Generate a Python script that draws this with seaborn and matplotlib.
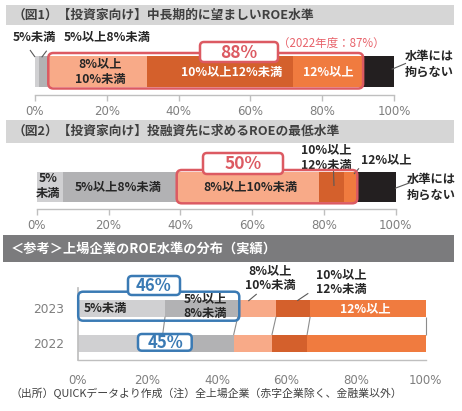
import numpy as np
import pandas as pd
import matplotlib.pyplot as plt
import seaborn as sns
from matplotlib.patches import FancyBboxPatch, Rectangle

# ---- data ----
seg_names = ['5%未満', '5%以上8%未満', '8%以上10%未満', '10%以上12%未満', '12%以上', '水準には拘らない']
fig1_vals = [1.1, 2.6, 27.4, 40.9, 19.4, 8.6]    # 中長期的に望ましいROE水準
fig2_vals = [7.2, 31.8, 39.6, 7.1, 3.6, 10.7]    # 投融資先に求めるROEの最低水準
ref_years = ['2023', '2022']
ref_2023 = [25.1, 20.9, 11.0, 9.8, 33.2]
ref_2022 = [24.4, 20.4, 11.0, 10.1, 34.1]
x_ticks = [0, 20, 40, 60, 80, 100]
x_ticklabels = [f'{t}%' for t in x_ticks]

seg_colors = ['#d0d0d2', '#b2b2b4', '#f8aa88', '#d4602c', '#f07b3f', '#231f20']
RED = '#dc5a62'
BLUE = '#3a7ab4'
GRAY_TXT = '#7f7f7f'
DARK_TXT = '#262626'

sns.set_theme(style='white')
plt.rcParams['font.family'] = ['Noto Sans CJK JP', 'DejaVu Sans']

W, H = 462, 411
fig = plt.figure(figsize=(W / 100, H / 100), dpi=100)
fig.patch.set_facecolor('white')


def px_axes(left, top, right, bottom):
    return fig.add_axes([left / W, 1 - bottom / H, (right - left) / W, (bottom - top) / H])


def stacked(ax, cats, rows, width):
    rows = np.asarray(rows, dtype=float)
    cum = np.cumsum(rows, axis=1)
    for j in reversed(range(cum.shape[1])):
        df = pd.DataFrame({'cat': cats, 'val': cum[:, j]})
        sns.barplot(data=df, x='val', y='cat', order=cats, orient='h', color=seg_colors[j],
                    saturation=1, width=width, linewidth=0, ax=ax)
    return cum


def fit_y(ax, top, bottom, first_center, unit):
    ax.set_ylim((bottom - first_center) / unit, (top - first_center) / unit)


def style_x(ax, pad, ticklen):
    ax.set_xlim(0, 100)
    ax.set_xticks(x_ticks)
    ax.set_xticklabels(x_ticklabels, fontfamily='DejaVu Sans')
    ax.set_xlabel('')
    ax.set_ylabel('')
    for s in ['top', 'right', 'left']:
        ax.spines[s].set_visible(False)
    ax.spines['bottom'].set_color('#bfbfbf')
    ax.spines['bottom'].set_linewidth(1)
    ax.tick_params(axis='x', colors='#bfbfbf', labelcolor=GRAY_TXT, labelsize=8.5,
                   length=ticklen, width=1, pad=pad, bottom=True, direction='out')
    ax.set_facecolor('none')


# ---- chart 1 ----
ax1 = px_axes(35, 50, 394, 95)
cum1 = stacked(ax1, ['fig1'], [fig1_vals], 0.8)
fit_y(ax1, 50, 95, 71.5, 31 / 0.8)
style_x(ax1, 3, 4)
ax1.set_yticks([])

# ---- chart 2 ----
ax2 = px_axes(36.7, 165, 395.7, 209.5)
cum2 = stacked(ax2, ['fig2'], [fig2_vals], 0.8)
fit_y(ax2, 165, 209.5, 187, 29.5 / 0.8)
style_x(ax2, 3, 4)
ax2.set_yticks([])

# ---- chart 3 ----
ax3 = px_axes(77.7, 288, 425.7, 360)
cum3 = stacked(ax3, ref_years, [ref_2023, ref_2022], 16.7 / 35)
fit_y(ax3, 288, 360, 308.3, 35)
style_x(ax3, 10, 0)
ax3.spines['left'].set_visible(True)
ax3.spines['left'].set_color('#bfbfbf')
ax3.tick_params(axis='y', labelcolor=GRAY_TXT, labelsize=8.8, length=0, pad=10)
for t in ax3.get_yticklabels():
    t.set_fontfamily('DejaVu Sans')

# ---- overlay for headers / labels ----
ov = fig.add_axes([0, 0, 1, 1])
ov.set_xlim(0, W)
ov.set_ylim(H, 0)
ov.axis('off')
ov.patch.set_alpha(0)


def dx(ax, v):
    return ax.transData.transform((v, 0))[0]


def line(p, q, color='#595959', lw=0.8):
    ov.plot([p[0], q[0]], [p[1], q[1]], color=color, lw=lw, solid_capstyle='butt')


def label(x, y, s, color=DARK_TXT, size=8.8, weight='bold', ha='center', ls=1.15):
    ov.text(x, y, s, color=color, fontsize=size, fontweight=weight, ha=ha, va='center',
            linespacing=ls)


def rbox(x0, y0, x1, y1, ec, fc='none', lw=1.8, r=5, z=5):
    ov.add_patch(FancyBboxPatch((x0, y0), x1 - x0, y1 - y0,
                                boxstyle=f'round,pad=0,rounding_size={r}',
                                fc=fc, ec=ec, lw=lw, zorder=z))


# headers
ov.add_patch(Rectangle((6, 5), 448, 20, fc='#d6d6d6', ec='none'))
ov.text(13, 15, '（図1）【投資家向け】中長期的に望ましいROE水準', fontsize=9.2,
        fontweight='bold', color='#404040', va='center')
ov.add_patch(Rectangle((6, 120), 448, 23, fc='#d6d6d6', ec='none'))
ov.text(13, 131.5, '（図2）【投資家向け】投融資先に求めるROEの最低水準', fontsize=9.2,
        fontweight='bold', color='#404040', va='center')
ov.add_patch(Rectangle((3, 235), 451, 27, fc='#7b7b7d', ec='none'))
ov.text(11, 248.5, '＜参考＞上場企業のROE水準の分布（実績）', fontsize=9.5,
        fontweight='bold', color='white', va='center')

# chart 1 labels
label(34.5, 38, seg_names[0])
label(107, 38, seg_names[1])
line((30, 50), (35, 57))
line((46.7, 50.7), (41.7, 57.3))
label(100, 72, '8%以上\n10%未満', ls=1.3)
label(232, 72.5, seg_names[3], color='white')
label(328, 72, seg_names[4], color='white')
label(429, 64.5, '水準には\n拘らない', ls=1.25)
line((391.7, 69.3), (406, 63.3))
rbox(dx(ax1, cum1[0, 1]), 53, dx(ax1, cum1[0, 4]), 88.5, RED)
rbox(200, 42, 278, 62, RED, fc='white', r=4, z=6)
ov.text(239, 52.5, f'{round(sum(fig1_vals[2:5]))}%', color=RED, fontsize=12.5,
        fontweight='bold', ha='center', va='center', zorder=7)
ov.text(331, 43, '（2022年度：87%）', color='#e8636b', fontsize=8.3, ha='center', va='center')

# chart 2 labels
label(48, 186, '5%\n未満', ls=1.15)
label(118, 187, seg_names[1])
label(250, 187, seg_names[2])
label(326.7, 157.5, '10%以上\n12%未満', ls=1.2)
line((333.5, 170), (334, 186))
label(386.7, 160, seg_names[4])
line((359, 168.3), (354, 174))
label(431, 187.5, '水準には\n拘らない', ls=1.25)
line((395, 188.3), (410, 182.7))
rbox(dx(ax2, cum2[0, 1]), 170, dx(ax2, cum2[0, 4]), 203.3, RED)
rbox(203, 153, 283, 174, RED, fc='white', r=4, z=6)
ov.text(243, 163.5, f'{round(sum(fig2_vals[2:5]))}%', color=RED, fontsize=12.5,
        fontweight='bold', ha='center', va='center', zorder=7)

# chart 3 series lines between the two bars
y_top, y_bot = 316.7, 335
for j in range(cum3.shape[1]):
    line((dx(ax3, cum3[0, j]), y_top), (dx(ax3, cum3[1, j]), y_bot), color='#8c8c8c', lw=0.8)

label(84, 308.3, seg_names[0], ha='left')
label(205, 306, '5%以上\n8%未満', ls=1.25)
label(270, 278, '8%以上\n10%未満', ls=1.25)
line((256.7, 294), (248.3, 301))
label(341.7, 282, '10%以上\n12%未満', ls=1.25)
line((308.3, 293.3), (297.3, 300.7))
label(365, 308.3, seg_names[4], color='white')

rbox(dx(ax3, 0) + 0.5, 291.7, dx(ax3, cum3[0, 1]) + 1.5, 320.7, BLUE, lw=1.8, r=5)
rbox(128, 276, 180, 295, BLUE, fc='white', r=4, z=6)
ov.text(154, 285.8, f'{round(cum3[0, 1])}%', color=BLUE, fontsize=12, fontweight='bold',
        ha='center', va='center', zorder=7)
rbox(138, 334, 191.7, 350.7, BLUE, fc='white', r=4, z=6)
ov.text(165, 342.5, f'{round(cum3[1, 1])}%', color=BLUE, fontsize=12, fontweight='bold',
        ha='center', va='center', zorder=7)

ov.text(10, 393, '（出所）QUICKデータより作成（注）全上場企業（赤字企業除く、金融業以外）',
        fontsize=7.8, color='#404040', ha='left', va='center')

fig.savefig('out.png', dpi=100, facecolor='white')
